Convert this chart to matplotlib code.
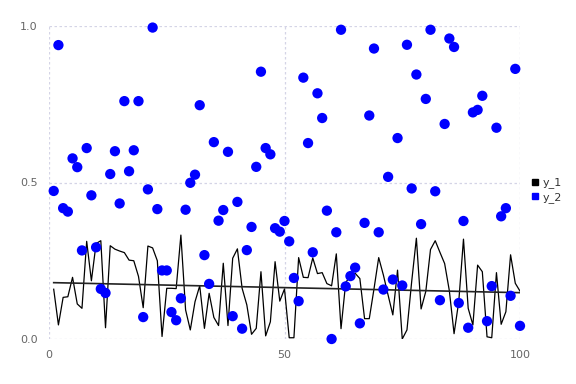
import matplotlib.pyplot as plt
from matplotlib.lines import Line2D

# данные
x = list(range(1, 101))

y_1 = [0.159, 0.045, 0.133, 0.135, 0.197, 0.112, 0.098, 0.312, 0.186, 0.305,
       0.314, 0.036, 0.298, 0.287, 0.281, 0.276, 0.252, 0.250, 0.200, 0.100,
       0.297, 0.291, 0.250, 0.008, 0.162, 0.162, 0.161, 0.332, 0.093, 0.029,
       0.119, 0.170, 0.034, 0.146, 0.069, 0.043, 0.242, 0.043, 0.258, 0.288,
       0.162, 0.109, 0.015, 0.034, 0.215, 0.010, 0.055, 0.247, 0.121, 0.160,
       0.004, 0.004, 0.260, 0.197, 0.196, 0.259, 0.209, 0.212, 0.177, 0.170,
       0.272, 0.033, 0.181, 0.200, 0.210, 0.193, 0.065, 0.065, 0.160, 0.260,
       0.204, 0.140, 0.077, 0.220, 0.000, 0.029, 0.183, 0.322, 0.096, 0.152,
       0.286, 0.314, 0.277, 0.241, 0.154, 0.017, 0.120, 0.319, 0.098, 0.045,
       0.236, 0.215, 0.007, 0.004, 0.212, 0.047, 0.087, 0.269, 0.178, 0.153]

y_2 = [0.473, 0.939, 0.418, 0.407, 0.577, 0.549, 0.283, 0.610, 0.459, 0.293,
       0.160, 0.147, 0.527, 0.600, 0.433, 0.760, 0.536, 0.603, 0.760, 0.070,
       0.478, 0.995, 0.415, 0.219, 0.219, 0.086, 0.060, 0.130, 0.413, 0.499,
       0.525, 0.747, 0.268, 0.176, 0.629, 0.378, 0.412, 0.598, 0.073, 0.438,
       0.033, 0.284, 0.358, 0.550, 0.854, 0.610, 0.590, 0.354, 0.343, 0.377,
       0.312, 0.195, 0.121, 0.835, 0.626, 0.277, 0.785, 0.706, 0.410, 0.000,
       0.341, 0.988, 0.168, 0.201, 0.228, 0.050, 0.371, 0.714, 0.928, 0.341,
       0.158, 0.518, 0.190, 0.642, 0.171, 0.940, 0.481, 0.845, 0.367, 0.767,
       0.988, 0.472, 0.124, 0.687, 0.960, 0.933, 0.115, 0.377, 0.036, 0.724,
       0.732, 0.777, 0.057, 0.169, 0.675, 0.392, 0.418, 0.138, 0.863, 0.042]

# линия тренда y_1 (концы)
trend_x = [1, 100]
trend_y = [0.180, 0.148]

x_ticks = [0, 50, 100]
y_ticks = [0.0, 0.5, 1.0]
y_labels = ['0.0', '0.5', '1.0']

fig = plt.figure(figsize=(5.76, 3.84), dpi=100)
ax = fig.add_axes([49 / 576, 45 / 384, 471 / 576, 313 / 384])

ax.plot(x, y_1, color='black', lw=0.9, zorder=2)
ax.plot(trend_x, trend_y, color='#222222', lw=1.2, zorder=2)
ax.scatter(x, y_2, s=55, color='#0000ff', edgecolors='none', zorder=3, clip_on=False)

ax.set_xlim(0, 100)
ax.set_ylim(0, 1)
ax.set_xticks(x_ticks)
ax.set_yticks(y_ticks)
ax.set_yticklabels(y_labels)
ax.tick_params(length=0, labelsize=8, labelcolor='#666666', pad=8)
ax.grid(True, color='#d4d4e6', linestyle=(0, (2, 2)), lw=0.9)
ax.set_axisbelow(True)
for s in ax.spines.values():
    s.set_visible(False)

handles = [Line2D([], [], marker='s', ls='none', color='black', markersize=5),
           Line2D([], [], marker='s', ls='none', color='#0000ff', markersize=5)]
fig.legend(handles, ['y_1', 'y_2'], loc='center left', bbox_to_anchor=(522 / 576, 1 - 190 / 384),
           frameon=False, fontsize=8, handlelength=0.6, handletextpad=0.4,
           labelspacing=0.3, labelcolor='#333333')

fig.savefig('out.png', dpi=100)
